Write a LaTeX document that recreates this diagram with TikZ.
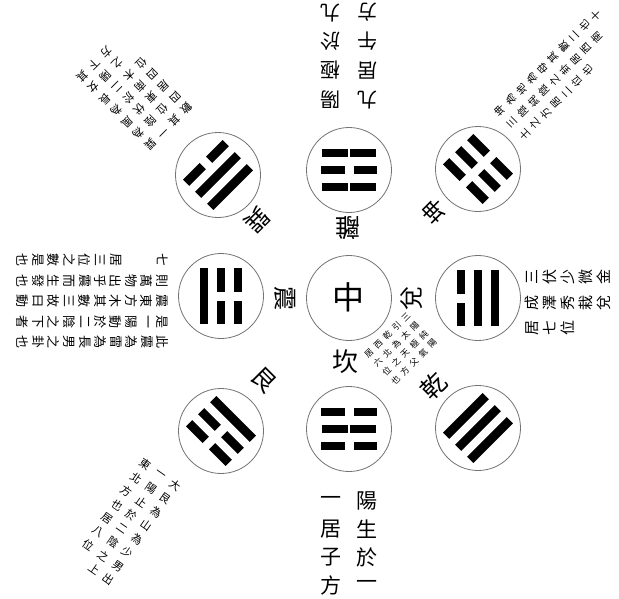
\documentclass[tikz,border=0pt]{standalone}
\usepackage{fontspec}
\newfontfamily\cjk{Noto Sans CJK TC}
\tikzset{
  ring/.style={circle, draw=black!55, line width=0.8pt, minimum size=85pt, inner sep=0pt},
  ch/.style={inner sep=0pt, font=\cjk\fontsize{#1}{#1}\selectfont},
  gua/.style={inner sep=0pt, font=\cjk\fontsize{#1}{#1}\selectfont},
}
% #1 centre, #2 rotation, #3 lines from the side facing the centre: 0 solid, 1 broken, 2 solid (split)
\newcommand\trigram[3]{%
  \begin{scope}[shift={(#1)}, rotate=#2]
    \foreach \t [count=\i] in {#3} {
      \pgfmathsetmacro\yy{(\i-2)*17}
      \ifnum\t=0 \fill (-28,\yy-4.4) rectangle (28,\yy+4.4);\fi
      \ifnum\t=1 \fill (-28,\yy-4.4) rectangle (-4.5,\yy+4.4); \fill (4.5,\yy-4.4) rectangle (28,\yy+4.4);\fi
      \ifnum\t=2 \fill (-27,\yy-4) rectangle (-0.8,\yy+4); \fill (0.8,\yy-4) rectangle (27,\yy+4);\fi
    }
  \end{scope}}
\begin{document}
\begin{tikzpicture}[x=1pt,y=-1pt]
\useasboundingbox (0,0) rectangle (619,598);

% circles
\node[ring] (mid) at (349,298) {};
\node[ring] (li)  at (349,170) {};
\node[ring] (kan) at (349,429) {};
\node[ring] (dui) at (478,298) {};
\node[ring] (zhen) at (221,296) {};
\node[ring] (xun) at (218,175) {};
\node[ring] (kun) at (478,169) {};
\node[ring] (qian) at (478,428) {};
\node[ring] (gen) at (221,431) {};

% trigrams
\trigram{li.center}{180}{2,1,2}
\trigram{kan.center}{0}{1,2,1}
\trigram{dui.center}{90}{1,0,0}
\trigram{zhen.center}{-90}{1,1,0}
\trigram{xun.center}{225}{0,0,1}
\trigram{kun.center}{135}{1,1,1}
\trigram{qian.center}{45}{0,0,0}
\trigram{gen.center}{-45}{0,1,1}

% names
\node[gua=32] (zhong) at (348,297) {中};
\node[gua=25, rotate=180] (lil) at (348,228) {離};
\node[gua=26] (kanl) at (345,362) {坎};
\node[gua=24, rotate=90] (duil) at (412,298) {兌};
\node[gua=24, rotate=-90] (zhenl) at (285,298) {震};
\node[gua=24, rotate=225] (xunl) at (257,220) {巽};
\node[gua=23, rotate=135] (kunl) at (434,212) {坤};
\node[gua=25, rotate=45] (qianl) at (434,386) {乾};
\node[gua=24, rotate=-45] (genl) at (264,380) {艮};

% north text
\begin{scope}[shift={(349,114)}, rotate=180, transform shape]
  \foreach \c [count=\i] in {陽,極,於,九} \node[ch=20] at (18.5,{(\i-0.5)*29}) {\c};
  \foreach \c [count=\i] in {九,居,午,方} \node[ch=20] at (-18.5,{(\i-0.5)*29}) {\c};
\end{scope}

% south text
\begin{scope}[shift={(349,487)}, transform shape]
  \foreach \c [count=\i] in {陽,生,於,一} \node[ch=21] at (18,{(\i-0.5)*28}) {\c};
  \foreach \c [count=\i] in {一,居,子,方} \node[ch=21] at (-18,{(\i-0.5)*28}) {\c};
\end{scope}

% east text
\begin{scope}[shift={(523,302.5)}, rotate=90, transform shape]
  \foreach \c [count=\i] in {三,伏,少,微,金} \node[ch=15] at (25.5,{(\i-0.5)*18}) {\c};
  \foreach \c [count=\i] in {成,澤,秀,栽,兌} \node[ch=15] at (0,{(\i-0.5)*18}) {\c};
  \foreach \c [count=\i] in {居,七,位} \node[ch=15] at (-25.5,{(\i-0.5)*18}) {\c};
\end{scope}

% west text
\begin{scope}[shift={(170,301)}, rotate=-90, transform shape]
  \foreach \c [count=\i] in {此,震,為,雷,為,長,男,之,卦,也} \node[ch=13] at (41,{(\i-0.5)*15.5}) {\c};
  \foreach \c [count=\i] in {是,一,陽,動,於,二,陰,之,下,者} \node[ch=13] at (20.5,{(\i-0.5)*15.5}) {\c};
  \foreach \c [count=\i] in {震,東,方,木,其,數,三,故,曰,動} \node[ch=13] at (0,{(\i-0.5)*15.5}) {\c};
  \foreach \c [count=\i] in {則,萬,物,出,乎,震,而,生,發,也} \node[ch=13] at (-20.5,{(\i-0.5)*15.5}) {\c};
  \foreach \c [count=\i] in {七,　,　,居,三,位,之,數,是,也} \node[ch=13] at (-41,{(\i-0.5)*15.5}) {\c};
\end{scope}

% north-west text
\begin{scope}[shift={(174,132)}, rotate=225, transform shape]
  \foreach \c [count=\i] in {巽,為,風,為,長,女,其} \node[ch=11] at (25.5,{(\i-0.5)*16}) {\c};
  \foreach \c [count=\i] in {一,陰,伏,於,二,陽,下} \node[ch=11] at (8.5,{(\i-0.5)*16}) {\c};
  \foreach \c [count=\i] in {其,位,東,南,木,之,方} \node[ch=11] at (-8.5,{(\i-0.5)*16}) {\c};
  \foreach \c [count=\i] in {數,四,居,四,位} \node[ch=11] at (-25.5,{(\i-0.5)*16}) {\c};
\end{scope}

% north-east text
\begin{scope}[shift={(507,128)}, rotate=135, transform shape]
  \foreach \c [count=\i] in {坤,為,地,為,母,其,數,二,也,十} \node[ch=10.5] at (17,{(\i-0.5)*15}) {\c};
  \foreach \c [count=\i] in {三,陰,純,陰,之,卦,居,西,南} \node[ch=10.5] at (0,{(\i-0.5)*15}) {\c};
  \foreach \c [count=\i] in {土,之,方,居,二,位,也} \node[ch=10.5] at (-17,{(\i-0.5)*15}) {\c};
\end{scope}

% south-west text
\begin{scope}[shift={(165,468)}, rotate=-35, transform shape]
  \foreach \c [count=\i] in {大,艮,為,山,為,少,男,出} \node[ch=11] at (18,{(\i-0.5)*16.5}) {\c};
  \foreach \c [count=\i] in {一,陽,止,於,二,陰,之,上} \node[ch=11] at (0,{(\i-0.5)*16.5}) {\c};
  \foreach \c [count=\i] in {東,北,方,也,居,八,位} \node[ch=11] at (-18,{(\i-0.5)*16.5}) {\c};
\end{scope}

% south-east text (between centre and qian)
\begin{scope}[shift={(383,331)}, rotate=45, transform shape]
  \foreach \c [count=\i] in {三,陽,純,陽} \node[ch=8.5] at (26,{(\i-0.5)*12.5}) {\c};
  \foreach \c [count=\i] in {引,太,極,氣} \node[ch=8.5] at (13,{(\i-0.5)*12.5}) {\c};
  \foreach \c [count=\i] in {乾,為,天,父} \node[ch=8.5] at (0,{(\i-0.5)*12.5}) {\c};
  \foreach \c [count=\i] in {西,北,之,方} \node[ch=8.5] at (-13,{(\i-0.5)*12.5}) {\c};
  \foreach \c [count=\i] in {居,六,位,也} \node[ch=8.5] at (-26,{(\i-0.5)*12.5}) {\c};
\end{scope}
\end{tikzpicture}
\end{document}
